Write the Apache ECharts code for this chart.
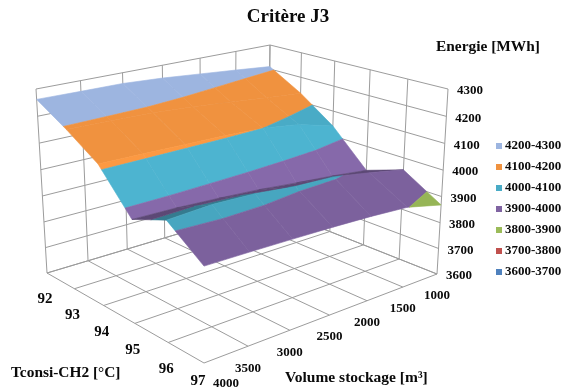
<!DOCTYPE html>
<html><head><meta charset="utf-8">
<style>html,body{margin:0;padding:0;background:#fff}#c{width:563px;height:389px}</style>
<script src="https://cdn.jsdelivr.net/npm/echarts@6/dist/echarts.min.js"></script>
</head><body><div id="c"></div>
<script>
const temperatures = [92, 93, 94, 95, 96, 97];
const volumes = [1000, 1500, 2000, 2500, 3000, 3500, 4000];
const energyTicks = [3600, 3700, 3800, 3900, 4000, 4100, 4200, 4300];
// energy by volume (1000 ... 4000)
const energyT92 = [4210, 4224, 4237, 4250, 4259, 4260, 4262];
const energyT93 = [4135, 4147, 4162, 4176, 4186, 4190, 4193];
const energyT94 = [4040, 4080, 4100, 4107, 4110, 4113, 4115];
const energyT95 = [3905, 3922, 3935, 3950, 3960, 3968, 3971];
const energyT96 = [3954, 3982, 4006, 4011, 4027, 4032, 4023];
const energyT97 = [3868, 3902, 3912, 3918, 3922, 3925, 3927];
const energy = [energyT92, energyT93, energyT94, energyT95, energyT96, energyT97];
const bandLabels = ['4200-4300','4100-4200','4000-4100','3900-4000','3800-3900','3700-3800','3600-3700'];
const bandLow = [4200, 4100, 4000, 3900, 3800, 3700, 3600];
const bandColors = ['#9DB5E0','#F0923F','#49ABC6','#8064A2','#9BBB59','#C0504D','#4F81BD'];
// lighting per row of cells (T92-93 ... T96-97)
const rowShade = [1, 1, 1.05, 0.72, 0.97];

// box corners on screen
const floorQuad = [[268,207],[437,274],[204,363],[47,273]];
const topQuad = [[270,45],[448,89],[204,151],[36,89]];
function homography(q){
  const [x0,y0]=q[0],[x1,y1]=q[1],[x2,y2]=q[2],[x3,y3]=q[3];
  const dx1=x1-x2,dx2=x3-x2,sx=x0-x1+x2-x3,dy1=y1-y2,dy2=y3-y2,sy=y0-y1+y2-y3;
  const den=dx1*dy2-dx2*dy1;
  const g=(sx*dy2-dx2*sy)/den,h=(dx1*sy-sx*dy1)/den;
  const a=x1-x0+g*x1,b=x3-x0+h*x3,d=y1-y0+g*y1,e=y3-y0+h*y3;
  return (u,v)=>{const n=g*u+h*v+1;return [(a*u+b*v+x0)/n,(d*u+e*v+y0)/n];};
}
const floorH=homography(floorQuad), topH=homography(topQuad);
const tScale=t=>(t-temperatures[0])/(temperatures[temperatures.length-1]-temperatures[0]);
const vScale=v=>(v-volumes[0])/(volumes[volumes.length-1]-volumes[0]);
const eScale=e=>{const w=(e-energyTicks[0])/(energyTicks[energyTicks.length-1]-energyTicks[0]);return w*0.96/(1-0.04*w);};
function project(t,v,e){
  const u=tScale(t),s=vScale(v),w=eScale(e);
  const a=floorH(u,s),b=topH(u,s);
  return [a[0]+(b[0]-a[0])*w,a[1]+(b[1]-a[1])*w];
}
function clip(poly,level,keepAbove){
  const out=[];
  for(let i=0;i<poly.length;i++){
    const p=poly[i],q=poly[(i+1)%poly.length];
    const pin=keepAbove?p[2]>=level:p[2]<=level, qin=keepAbove?q[2]>=level:q[2]<=level;
    if(pin)out.push(p);
    if(pin!==qin){const k=(level-p[2])/(q[2]-p[2]);out.push([p[0]+(q[0]-p[0])*k,p[1]+(q[1]-p[1])*k,level]);}
  }
  return out;
}
function shade(hex,f){
  const n=parseInt(hex.slice(1),16);
  const c=[n>>16,(n>>8)&255,n&255].map(x=>Math.min(255,Math.round(x*f)));
  return 'rgb('+c.join(',')+')';
}
const bandPolys=bandLabels.map(()=>[]);
let order=0;
for(let i=0;i<temperatures.length-1;i++){
  for(let j=0;j<volumes.length-1;j++){
    const cell=[
      [temperatures[i],volumes[j],energy[i][j]],
      [temperatures[i+1],volumes[j],energy[i+1][j]],
      [temperatures[i+1],volumes[j+1],energy[i+1][j+1]],
      [temperatures[i],volumes[j+1],energy[i][j+1]]];
    bandLow.forEach((low,b)=>{
      let poly=clip(clip(cell,low,true),low+100,false);
      if(poly.length<3)return;
      bandPolys[b].push({pts:poly.map(c=>project(c[0],c[1],c[2])),f:rowShade[i],z:order+10});
      order++;
    });
  }
}
const font=s=>'bold '+s+'px "Liberation Serif","Times New Roman",serif';
const gridLines=[];
const addLine=(a,b)=>gridLines.push([project(a[0],a[1],a[2]),project(b[0],b[1],b[2])]);
const t0=temperatures[0],t1=temperatures[temperatures.length-1],v0=volumes[0],v1=volumes[volumes.length-1],e0=energyTicks[0],e1=energyTicks[energyTicks.length-1];
temperatures.forEach(t=>{addLine([t,v0,e0],[t,v1,e0]);addLine([t,v0,e0],[t,v0,e1]);});
volumes.forEach(v=>{addLine([t0,v,e0],[t1,v,e0]);addLine([t0,v,e0],[t0,v,e1]);});
energyTicks.forEach(e=>{addLine([t0,v0,e],[t1,v0,e]);addLine([t0,v0,e],[t0,v1,e]);});

const texts=[];
energyTicks.forEach(e=>{const p=project(t1,v0,e);texts.push({text:String(e),x:p[0]+9,y:p[1]+2,align:'left',size:13});});
temperatures.forEach((t,i)=>{const p=project(t,v1,e0);const last=i===temperatures.length-1;
  texts.push({text:String(t),x:p[0]+(last?-6:-2),y:p[1]+(last?18:26.5),align:'center',size:15});});
volumes.forEach((v,i)=>{const p=project(t1,v,e0);const last=i===volumes.length-1;
  texts.push({text:String(v),x:p[0]+(last?22:0),y:p[1]+(last?21:22),align:'center',size:13});});
texts.push({text:'Critère J3',x:288,y:17,align:'center',size:19});
texts.push({text:'Energie [MWh]',x:436,y:47,align:'left',size:15.4});
texts.push({text:'Tconsi-CH2 [°C]',x:11,y:373,align:'left',size:15.4});
texts.push({text:'Volume stockage [m³]',x:285,y:378,align:'left',size:15.5});

const series=[{
  type:'custom',name:'frame',coordinateSystem:'none',z:1,silent:true,animation:false,
  data:gridLines.map((_,i)=>[i]),
  renderItem:(p,api)=>{const l=gridLines[api.value(0)];
    return {type:'line',shape:{x1:l[0][0],y1:l[0][1],x2:l[1][0],y2:l[1][1]},style:{stroke:'#9c9c9c',lineWidth:1,fill:null}};}
},{
  type:'custom',name:'labels',coordinateSystem:'none',z:3,silent:true,animation:false,
  data:texts.map((_,i)=>[i]),
  renderItem:(p,api)=>{const t=texts[api.value(0)];
    return {type:'text',style:{text:t.text,x:t.x,y:t.y,align:t.align,verticalAlign:'middle',font:font(t.size),fill:'#0a0a0a'}};}
}];
bandLabels.forEach((name,b)=>{
  series.push({type:'custom',name,coordinateSystem:'none',z:2,silent:true,animation:false,
    itemStyle:{color:bandColors[b]},
    data:bandPolys[b].map((_,i)=>[i]),
    renderItem:(p,api)=>{const g=bandPolys[b][api.value(0)];const col=shade(bandColors[b],g.f);
      return {type:'polygon',z2:g.z,shape:{points:g.pts},style:{fill:col,stroke:col,lineWidth:0.6}};}
  });
});
const chart=echarts.init(document.getElementById('c'),null,{renderer:'canvas'});
chart.setOption({
  animation:false,backgroundColor:'#fff',
  legend:{data:bandLabels,orient:'vertical',left:496,top:139,icon:'rect',itemWidth:6,itemHeight:6,itemGap:7,padding:0,selectedMode:false,
    textStyle:{fontFamily:'Liberation Serif',fontWeight:'bold',fontSize:13,color:'#0a0a0a',lineHeight:14,padding:[0,0,0,-2]}},
  series
});
</script></body></html>
